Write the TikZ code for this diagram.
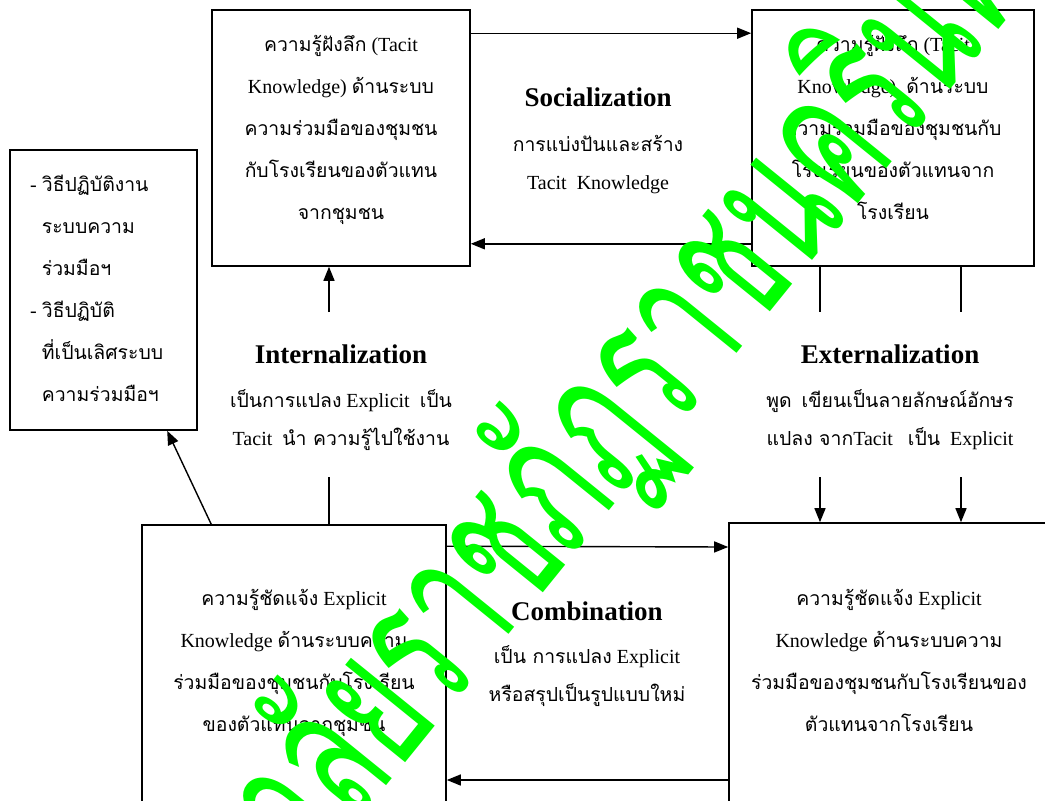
\documentclass[tikz,border=0pt]{standalone}
\usepackage{fontspec}
\setmainfont{Liberation Serif}
\newfontfamily\thai[Script=Thai,Scale=0.97]{Loma}
\usetikzlibrary{arrows.meta}
\newcommand\T[1]{{\thai #1}}
\definecolor{wmgreen}{RGB}{0,255,0}
\begin{document}
\begin{tikzpicture}[x=1pt,y=-1pt,
 box/.style={draw,line width=1.6pt,rectangle,inner sep=0pt},
 txt/.style={align=center,inner sep=0pt,font=\fontsize{20}{42}\selectfont},
 sub/.style={align=center,inner sep=0pt,font=\fontsize{20}{38}\selectfont},
 ttl/.style={inner sep=0pt,font=\fontsize{27}{32}\selectfont\bfseries},
 arr/.style={line width=1.4pt,-{Triangle[length=14pt,width=11pt]}},
 ln/.style={line width=1.4pt},
 wm/.style={text=wmgreen,inner sep=0pt,font=\thai\fontsize{200}{200}\selectfont,rotate=51,xscale=0.6}]
\useasboundingbox (0,0) rectangle (1045,801);
\clip (0,0) rectangle (1045,801);
% boxes
\node[box,minimum width=258pt,minimum height=256pt] (tl) at (341,138) {};
\node[box,minimum width=282pt,minimum height=256pt] (tr) at (893,138) {};
\node[box,minimum width=187pt,minimum height=280pt] (lb) at (103.5,290) {};
\node[box,minimum width=304pt,minimum height=335pt] (bl) at (294,692.5) {};
\node[box,minimum width=371pt,minimum height=337pt] (br) at (914.5,691.5) {};
% box texts (anchored at the baseline of their last line)
\node[txt,anchor=base] (tlt) at (341,219) {\T{ความรู้ฝังลึก} (Tacit\\Knowledge) \T{ด้านระบบ}\\\T{ความร่วมมือของชุมชน}\\\T{กับโรงเรียนของตัวแทน}\\\T{จากชุมชน}};
\node[txt,anchor=base] (trt) at (893,219) {\T{ความรู้ฝังลึก} (Tacit\\Knowledge)\ \ \T{ด้านระบบ}\\\T{ความร่วมมือของชุมชนกับ}\\\T{โรงเรียนของตัวแทนจาก}\\\T{โรงเรียน}};
\node[txt,anchor=base] (blt) at (294,731) {\T{ความรู้ชัดแจ้ง} Explicit\\Knowledge \T{ด้านระบบความ}\\\T{ร่วมมือของชุมชนกับโรงเรียน}\\\T{ของตัวแทนจากชุมชน}};
\node[txt,anchor=base] (brt) at (889,731) {\T{ความรู้ชัดแจ้ง} Explicit\\Knowledge \T{ด้านระบบความ}\\\T{ร่วมมือของชุมชนกับโรงเรียนของ}\\\T{ตัวแทนจากโรงเรียน}};
\node[txt,align=left,anchor=base west] (lbt) at (30,401) {- \T{วิธีปฏิบัติงาน}\\\phantom{- }\T{ระบบความ}\\\phantom{- }\T{ร่วมมือฯ}\\- \T{วิธีปฏิบัติ}\\\phantom{- }\T{ที่เป็นเลิศระบบ}\\\phantom{- }\T{ความร่วมมือฯ}};
% process labels
\node[ttl,anchor=base] (soc) at (598,106) {Socialization};
\node[sub,anchor=base] (soct) at (598,189) {\T{การแบ่งปันและสร้าง}\\Tacit\ \ Knowledge};
\node[ttl,anchor=base] (int) at (341,363) {Internalization};
\node[sub,anchor=base] (intt) at (341,445) {\T{เป็นการแปลง} Explicit\ \ \T{เป็น}\\Tacit\ \ \T{นำ ความรู้ไปใช้งาน}};
\node[ttl,anchor=base] (ext) at (890,363) {Externalization};
\node[sub,anchor=base] (extt) at (890,445) {\T{พูด}\ \ \T{เขียนเป็นลายลักษณ์อักษร}\\\T{แปลง จาก}Tacit\ \ \ \T{เป็น}\ \ Explicit};
\node[ttl,anchor=base] (com) at (587,620) {Combination};
\node[sub,anchor=base] (comt) at (587,701) {\T{เป็น การแปลง} Explicit\\\T{หรือสรุปเป็นรูปแบบใหม่}};
% helper coordinates
\coordinate (i1) at (329,477);
\coordinate (i2) at (329,312);
\coordinate (e1a) at (820,312);
\coordinate (e1b) at (820,477);
\coordinate (e2a) at (961,312);
\coordinate (e2b) at (961,477);
% connectors
\draw[arr] ([yshift=-24pt]tl.north east) -- ([yshift=-24pt]tr.north west);
\draw[arr] ([yshift=23pt]tr.south west) -- ([yshift=23pt]tl.south east);
\draw[ln] (bl.north -| i1) -- (i1);
\draw[arr] (i2) -- (tl.south -| i2);
\draw[ln] (tr.south -| e1a) -- (e1a);
\draw[ln] (tr.south -| e2a) -- (e2a);
\draw[arr] (e1b) -- (br.north -| e1b);
\draw[arr] (e2b) -- (br.north -| e2b);
\draw[arr] ([yshift=-22pt]bl.north east) -- (br.west |- 0,547);
\draw[arr] (br.west |- 0,780) -- (bl.east |- 0,780);
\draw[arr] ([xshift=70pt]bl.north west) -- ([xshift=158pt]lb.south west);
% watermark
\node[wm] (wmark) at (508,532) {มหาวิทยาลัยราชภัฏราชนครินทร์};
\end{tikzpicture}
\end{document}
